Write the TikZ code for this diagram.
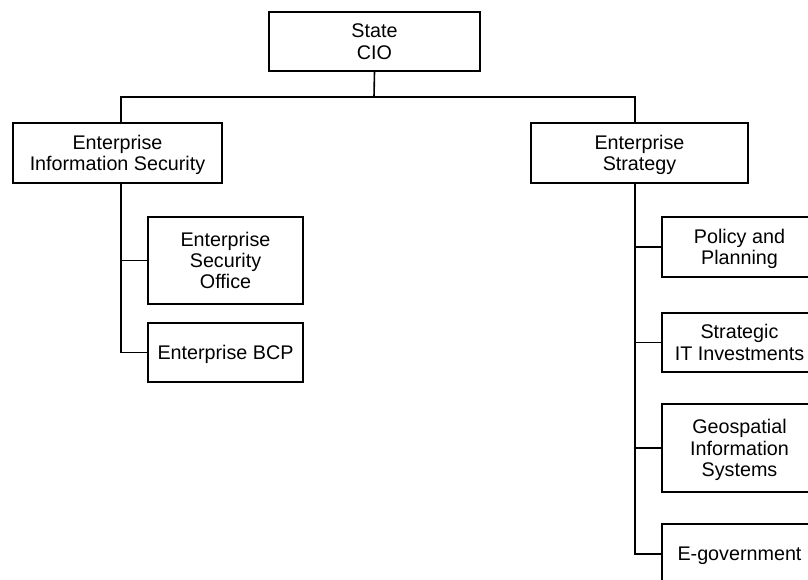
\documentclass[tikz,border=0pt]{standalone}
\usepackage{fontspec}
\setmainfont{Liberation Sans}
\tikzset{
  orgbox/.style 2 args={draw,line width=1.2pt,align=center,inner sep=0pt,
    minimum width=#1*0.75pt,minimum height=#2*0.75pt,
    font=\fontsize{14.8}{16}\selectfont,text depth=-1.5pt},
  link/.style={line width=1.2pt}
}
\begin{document}
\begin{tikzpicture}[x=0.75pt,y=-0.75pt]
			\useasboundingbox (0,0) rectangle (808,580);
			\clip (0,0) rectangle (808,580);

			\node (cio) at (374.5,41.5) [orgbox={211}{59}] {State\\CIO};
			\node (eis) at (117.5,153) [orgbox={209}{60}] {Enterprise\\Information Security};
			\node (es) at (639.5,153) [orgbox={217}{60}] {Enterprise\\Strategy};

			\node (eso) at (225.5,260.5) [orgbox={155}{87}] {Enterprise\\Security\\Office};
			\node (bcp) at (225.5,352.5) [orgbox={155}{59}] {Enterprise BCP};

			\node (pp) at (739.5,247) [orgbox={155}{60}] {Policy and\\Planning};
			\node (sit) at (739.5,342.5) [orgbox={155}{59}] {Strategic\\IT Investments};
			\node (gis) at (739.5,448) [orgbox={155}{88}] {Geospatial\\Information\\Systems};
			\node (eg) at (739.5,554) [orgbox={155}{60}] {E-government};

			\coordinate (bus) at (374,97);
			\coordinate (lt) at (121,0);
			\coordinate (rt) at (635,0);

			\draw[link] (cio.south) -- (bus);
			\draw[link] (eis.north -| lt) |- (bus) -| (es.north -| rt);

			\draw[link] (eis.south -| lt) |- (eso.west);
			\draw[link] (eis.south -| lt) |- (bcp.west);

			\draw[link] (es.south -| rt) |- (pp.west);
			\draw[link] (es.south -| rt) |- (sit.west);
			\draw[link] (es.south -| rt) |- (gis.west);
			\draw[link] (es.south -| rt) |- (eg.west);
		\end{tikzpicture}
\end{document}
